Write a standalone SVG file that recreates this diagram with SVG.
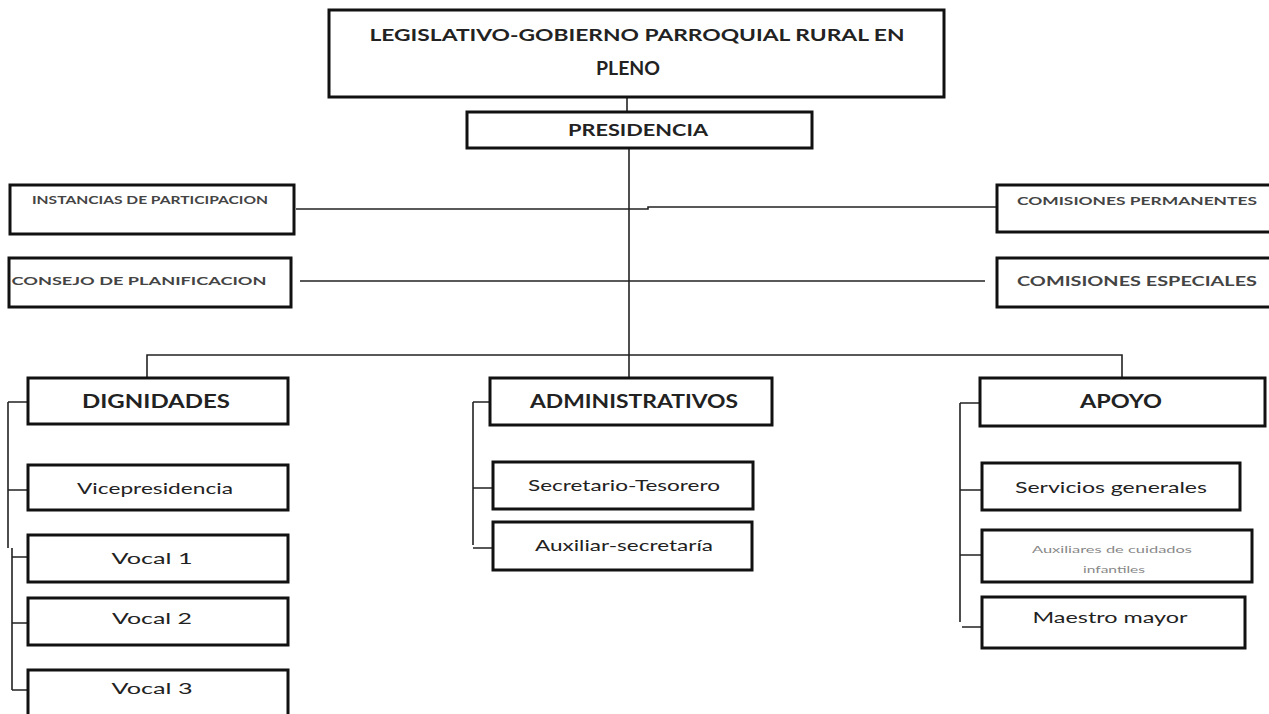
<svg xmlns="http://www.w3.org/2000/svg" width="1269" height="714" viewBox="0 0 1269 714">
<style>
.box{fill:#fff;stroke:#111;stroke-width:3}
.ln{stroke:#222;stroke-width:1.6;fill:none}
.t{font-family:Lato,"Liberation Sans",sans-serif;fill:#222;text-anchor:middle}
.b{font-weight:bold}
.s{fill:#444}
.g{fill:#888}
</style>
<rect width="1269" height="714" fill="#fff"/>
<g id="connectors">
<path class="ln" d="M627 97V112"/>
<path class="ln" d="M629 148V377"/>
<path class="ln" d="M296 209H629"/>
<path class="ln" d="M629 209H648V207H997"/>
<path class="ln" d="M300 281H985"/>
<path class="ln" d="M147 377V355H1122V377"/>
<path class="ln" d="M8 402V548M12 548V690"/>
<path class="ln" d="M8 402H28M8 490H28M12 557H28M12 623H28M12 690H28"/>
<path class="ln" d="M473 402V545M473 402H490M473 488H493M473 548H493"/>
<path class="ln" d="M960 403V622M960 403H980M960 490H982M960 555H982M962 627H982"/>
</g>
<g id="n-legislativo"><rect class="box" x="329" y="10" width="615" height="87"/>
<text class="t b" x="637" y="41" font-size="17" textLength="535" lengthAdjust="spacingAndGlyphs">LEGISLATIVO-GOBIERNO PARROQUIAL RURAL EN</text>
<text class="t b" x="628" y="75" font-size="18" textLength="64" lengthAdjust="spacingAndGlyphs">PLENO</text></g>
<g id="n-presidencia"><rect class="box" x="467" y="112" width="345" height="36"/>
<text class="t b" x="638" y="136" font-size="17" textLength="140" lengthAdjust="spacingAndGlyphs">PRESIDENCIA</text></g>
<g id="n-instancias"><rect class="box" x="10" y="185" width="284" height="49"/>
<text class="t b s" x="150" y="204" font-size="11" textLength="236" lengthAdjust="spacingAndGlyphs">INSTANCIAS DE PARTICIPACION</text></g>
<g id="n-consejo"><rect class="box" x="9" y="258" width="282" height="49"/>
<text class="t b s" x="139" y="285" font-size="12" textLength="255" lengthAdjust="spacingAndGlyphs">CONSEJO DE PLANIFICACION</text></g>
<g id="n-com-perm"><rect class="box" x="997" y="185" width="280" height="47"/>
<text class="t b s" x="1137" y="205" font-size="12" textLength="240" lengthAdjust="spacingAndGlyphs">COMISIONES PERMANENTES</text></g>
<g id="n-com-esp"><rect class="box" x="997" y="258" width="280" height="49"/>
<text class="t b s" x="1137" y="286" font-size="13" textLength="240" lengthAdjust="spacingAndGlyphs">COMISIONES ESPECIALES</text></g>
<g id="n-dignidades"><rect class="box" x="28" y="378" width="260" height="46"/>
<text class="t b" x="156" y="408" font-size="18" textLength="148" lengthAdjust="spacingAndGlyphs">DIGNIDADES</text></g>
<g id="n-vice"><rect class="box" x="28" y="465" width="260" height="45"/>
<text class="t" x="155" y="494" font-size="16" textLength="156" lengthAdjust="spacingAndGlyphs">Vicepresidencia</text></g>
<g id="n-vocal1"><rect class="box" x="28" y="535" width="260" height="47"/>
<text class="t" x="152" y="564" font-size="16" textLength="81" lengthAdjust="spacingAndGlyphs">Vocal 1</text></g>
<g id="n-vocal2"><rect class="box" x="28" y="598" width="260" height="47"/>
<text class="t" x="152" y="624" font-size="16" textLength="80" lengthAdjust="spacingAndGlyphs">Vocal 2</text></g>
<g id="n-vocal3"><rect class="box" x="28" y="670" width="260" height="60"/>
<text class="t" x="152" y="694" font-size="16" textLength="81" lengthAdjust="spacingAndGlyphs">Vocal 3</text></g>
<g id="n-administrativos"><rect class="box" x="490" y="378" width="282" height="47"/>
<text class="t b" x="634" y="408" font-size="18" textLength="208" lengthAdjust="spacingAndGlyphs">ADMINISTRATIVOS</text></g>
<g id="n-secretario"><rect class="box" x="493" y="462" width="260" height="47"/>
<text class="t" x="624" y="491" font-size="16" textLength="192" lengthAdjust="spacingAndGlyphs">Secretario-Tesorero</text></g>
<g id="n-auxiliar"><rect class="box" x="493" y="522" width="259" height="48"/>
<text class="t" x="624" y="551" font-size="16" textLength="178" lengthAdjust="spacingAndGlyphs">Auxiliar-secretaría</text></g>
<g id="n-apoyo"><rect class="box" x="980" y="378" width="285" height="48"/>
<text class="t b" x="1121" y="408" font-size="18" textLength="82" lengthAdjust="spacingAndGlyphs">APOYO</text></g>
<g id="n-servicios"><rect class="box" x="982" y="463" width="258" height="47"/>
<text class="t" x="1111" y="493" font-size="16" textLength="192" lengthAdjust="spacingAndGlyphs">Servicios generales</text></g>
<g id="n-auxiliares"><rect class="box" x="982" y="530" width="270" height="52"/>
<text class="t g" x="1112" y="553" font-size="10" textLength="160" lengthAdjust="spacingAndGlyphs">Auxiliares de cuidados</text>
<text class="t g" x="1114" y="573" font-size="10" textLength="62" lengthAdjust="spacingAndGlyphs">infantiles</text></g>
<g id="n-maestro"><rect class="box" x="982" y="597" width="263" height="51"/>
<text class="t" x="1110" y="623" font-size="16" textLength="155" lengthAdjust="spacingAndGlyphs">Maestro mayor</text></g>
</svg>
